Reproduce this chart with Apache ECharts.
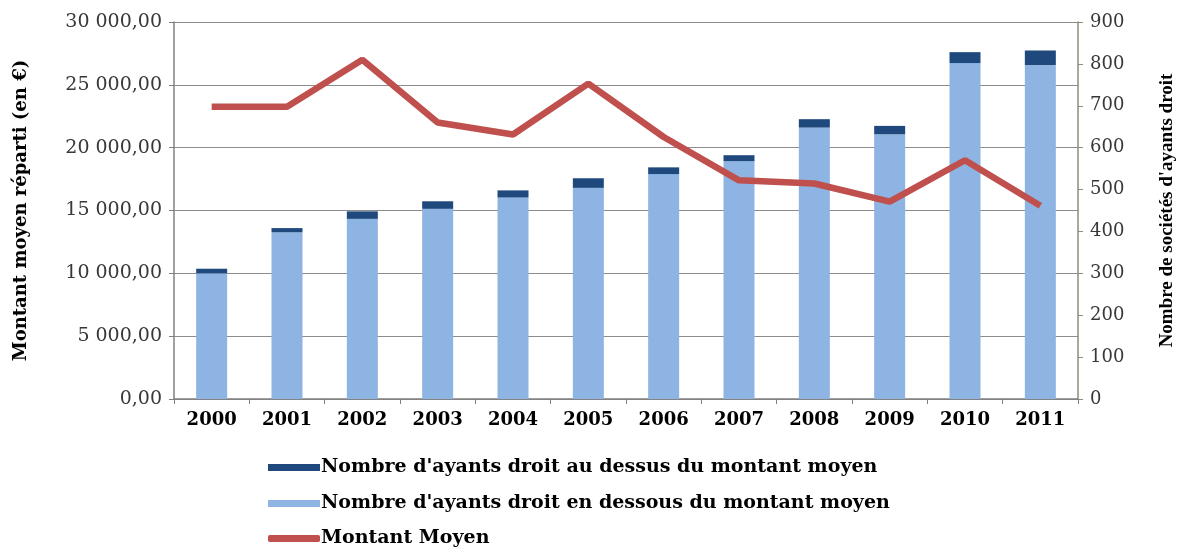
<!DOCTYPE html>
<html><head><meta charset="utf-8">
<script src="https://cdn.jsdelivr.net/npm/echarts@6/dist/echarts.min.js"></script>
<style>html,body{margin:0;padding:0;background:#fff}#c{width:1180px;height:547px}</style>
</head><body><div id="c"></div>
<script>
const categories = ['2000','2001','2002','2003','2004','2005','2006','2007','2008','2009','2010','2011'];
const belowAvg = [300, 398, 430, 454, 481, 504, 537, 568, 648, 632, 802, 797];
const aboveAvg = [11, 10, 18, 18, 17, 23, 16, 14, 20, 20, 26, 35];
const avgAmount = [23250, 23250, 27000, 22000, 21050, 25100, 20850, 17400, 17150, 15700, 19000, 15380];
const leftTicks = [0, 5000, 10000, 15000, 20000, 25000, 30000];
const rightTicks = [0, 100, 200, 300, 400, 500, 600, 700, 800, 900];
const seriesNames = ["Nombre d'ayants droit au dessus du montant moyen", "Nombre d'ayants droit en dessous du montant moyen", "Montant Moyen"];

const serif = '"DejaVu Serif","Liberation Serif",serif';
const times = '"Liberation Serif","DejaVu Serif",serif';
function fmt(v){
  const s = Math.round(v).toString().replace(/\B(?=(\d{3})+(?!\d))/g,' ');
  return s + ',00';
}
const legendText = {fontFamily:serif,fontWeight:'bold',fontSize:19,color:'#000',padding:[0,0,0,-4]};
function mkLegend(i, top, icon){
  return {orient:'vertical', left:263, top:top, itemWidth:52, itemHeight:7,
    textStyle:legendText, data:[{name:seriesNames[i],icon:icon}]};
}
const chart = echarts.init(document.getElementById('c'));
chart.setOption({
  animation:false,
  backgroundColor:'#fff',
  grid:{left:174,right:102,top:22,bottom:148,containLabel:false,outerBoundsMode:'none'},
  legend:[mkLegend(0,453,'rect'), mkLegend(1,489,'rect'), mkLegend(2,524,'roundRect')],
  xAxis:{
    type:'category', data:categories,
    axisLine:{lineStyle:{color:'#808080',width:1.5}},
    axisTick:{show:true,alignWithLabel:false,length:5,lineStyle:{color:'#808080'}},
    axisLabel:{fontFamily:serif,fontWeight:'bold',fontSize:18,color:'#000',margin:12}
  },
  yAxis:[{
    type:'value', min:leftTicks[0], max:leftTicks[leftTicks.length-1], interval:leftTicks[1]-leftTicks[0], position:'left',
    name:'Montant moyen réparti (en €)', nameLocation:'middle', nameRotate:90, nameGap:144,
    nameTextStyle:{fontFamily:serif,fontWeight:'bold',fontSize:18,color:'#000'},
    axisLine:{show:true,lineStyle:{color:'#808080',width:1.5}},
    axisTick:{show:true,length:5,lineStyle:{color:'#808080'}},
    axisLabel:{fontFamily:serif,fontSize:19,color:'#383838',formatter:fmt,margin:12},
    splitLine:{show:true,lineStyle:{color:'#8c8c8c',width:1}}
  },{
    type:'value', min:rightTicks[0], max:rightTicks[rightTicks.length-1], interval:rightTicks[1]-rightTicks[0], position:'right',
    name:"Nombre de sociétés d'ayants droit", nameLocation:'middle', nameRotate:90, nameGap:80,
    nameTextStyle:{fontFamily:times,fontWeight:'bold',fontSize:19,color:'#000'},
    axisLine:{show:true,lineStyle:{color:'#8a8f7a',width:1.5}},
    axisTick:{show:true,length:5,lineStyle:{color:'#8a8f7a'}},
    axisLabel:{fontFamily:serif,fontSize:18,color:'#383838',margin:12},
    splitLine:{show:false}
  }],
  series:[
    {name:seriesNames[1],type:'bar',stack:'n',yAxisIndex:1,data:belowAvg,barWidth:31,itemStyle:{color:'#8DB4E2'}},
    {name:seriesNames[0],type:'bar',stack:'n',yAxisIndex:1,data:aboveAvg,barWidth:31,itemStyle:{color:'#1F497D'}},
    {name:seriesNames[2],type:'line',yAxisIndex:0,data:avgAmount,symbol:'none',lineStyle:{color:'#C0504D',width:6.5},itemStyle:{color:'#C0504D'},z:5}
  ]
});
</script></body></html>
